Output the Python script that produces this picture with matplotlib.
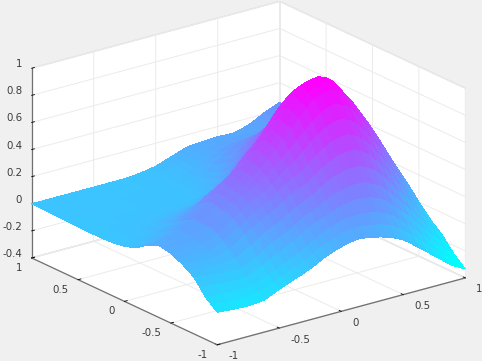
import matplotlib
matplotlib.use('Agg')
import matplotlib.pyplot as plt
import numpy as np
from mpl_toolkits.mplot3d import proj3d

# grid is tighter where the surface is steep
x_vals = [-1, -.875, -.75, -.625, -.5, -.4375, -.375, -.3125, -.25, -.1875, -.125, -.0625, 0, .0625, .125,
          .1875, .25, .3125, .375, .4375, .5, .5625, .625, .6875, .75, .8125, .875, .9375, 1]
y_vals = [-1, -.9375, -.875, -.8125, -.75, -.6875, -.625, -.5625, -.5, -.4375, -.375, -.3125, -.25, -.1875, -.125,
          -.0625, 0, .0625, .125, .1875, .25, .3125, .375, .4375, .5, .625, .75, .875, 1]

# heights, one row per y value
z_rows = [
    [-.16, -.17, -.175, -.165, -.115, -.092, -.07, -.048, -.025, .005, .035, .057, .075, .09, .10, .095, .085, .072, .055, .032, .005, -.038, -.085, -.13, -.175, -.222, -.27, -.303, -.334],
    [-.125, -.135, -.14, -.131, -.085, -.06, -.035, -.012, .012, .044, .076, .101, .122, .141, .155, .155, .15, .14, .126, .102, .075, .028, -.022, -.071, -.12, -.172, -.224, -.262, -.297],
    [-.09, -.10, -.106, -.098, -.054, -.028, -.001, .024, .049, .083, .117, .145, .169, .192, .21, .215, .215, .208, .197, .173, .144, .095, .042, -.012, -.065, -.122, -.178, -.22, -.26],
    [-.037, -.049, -.058, -.054, -.005, .025, .055, .085, .11, .145, .18, .21, .229, .256, .279, .29, .297, .294, .287, .262, .232, .179, .122, .063, .005, -.058, -.12, -.167, -.211],
    [.016, .002, -.01, -.01, .04, .075, .11, .14, .165, .20, .235, .265, .288, .32, .348, .366, .379, .38, .376, .35, .32, .263, .202, .138, .075, .006, -.062, -.113, -.161],
    [.045, .031, .023, .04, .10, .14, .175, .205, .23, .265, .30, .33, .354, .391, .425, .45, .47, .476, .476, .45, .417, .357, .291, .222, .152, .077, .002, -.063, -.126],
    [.073, .06, .055, .09, .16, .20, .235, .265, .29, .33, .37, .40, .419, .462, .502, .535, .561, .572, .575, .55, .514, .45, .38, .305, .229, .148, .066, -.012, -.09],
    [.094, .085, .085, .125, .20, .24, .28, .305, .335, .38, .42, .455, .482, .53, .575, .615, .648, .664, .67, .645, .607, .54, .465, .385, .303, .216, .127, .042, -.044],
    [.114, .11, .115, .16, .24, .28, .32, .35, .38, .42, .465, .51, .544, .597, .648, .695, .734, .755, .764, .74, .699, .63, .549, .465, .376, .283, .188, .095, .002],
    [.122, .118, .128, .185, .27, .315, .355, .385, .415, .46, .505, .555, .604, .661, .717, .77, .816, .842, .854, .83, .787, .715, .629, .54, .446, .347, .246, .148, .051],
    [.13, .125, .14, .18, .266, .314, .362, .40, .44, .492, .547, .605, .663, .725, .786, .845, .898, .928, .943, .92, .875, .80, .709, .616, .516, .41, .303, .20, .10],
    [.113, .118, .14, .185, .278, .327, .376, .415, .455, .509, .564, .623, .682, .745, .808, .87, .924, .957, .972, .948, .903, .825, .735, .641, .538, .43, .322, .225, .13],
    [.095, .11, .14, .19, .29, .34, .39, .43, .47, .525, .58, .64, .70, .765, .83, .895, .95, .985, 1.0, .975, .93, .85, .76, .665, .56, .45, .34, .25, .16],
    [.065, .08, .115, .165, .26, .30, .35, .39, .43, .48, .54, .60, .66, .725, .79, .85, .91, .945, .96, .94, .90, .83, .745, .655, .555, .455, .355, .268, .18],
    [.035, .05, .09, .14, .23, .27, .31, .345, .38, .44, .50, .55, .60, .67, .74, .81, .87, .90, .92, .90, .87, .805, .73, .645, .55, .46, .37, .285, .2],
    [.02, .03, .065, .11, .185, .22, .255, .285, .315, .365, .42, .47, .53, .60, .67, .745, .80, .84, .865, .848, .82, .76, .69, .61, .525, .44, .355, .278, .2],
    [.005, .01, .04, .08, .14, .165, .19, .215, .24, .29, .34, .37, .40, .475, .55, .63, .70, .76, .80, .79, .77, .715, .65, .575, .50, .42, .34, .27, .2],
    [-.001, .005, .03, .06, .10, .12, .14, .16, .18, .215, .25, .30, .345, .415, .485, .56, .625, .675, .71, .71, .70, .655, .60, .533, .465, .393, .32, .258, .195],
    [-.007, 0, .02, .04, .07, .085, .10, .11, .12, .16, .20, .245, .29, .355, .42, .485, .55, .59, .62, .625, .63, .59, .55, .49, .43, .365, .30, .245, .19],
    [-.01, 0, .015, .028, .045, .055, .065, .075, .085, .11, .145, .185, .225, .285, .355, .415, .475, .515, .56, .57, .575, .54, .51, .455, .40, .343, .285, .235, .185],
    [-.012, 0, .01, .015, .025, .03, .04, .045, .05, .07, .09, .125, .16, .225, .29, .345, .40, .45, .50, .51, .52, .495, .47, .42, .37, .32, .27, .225, .18],
    [-.012, 0, .005, .01, .015, .02, .025, .028, .03, .04, .06, .085, .115, .17, .23, .285, .345, .395, .445, .46, .47, .45, .425, .383, .34, .298, .255, .215, .175],
    [-.013, 0, 0, .005, .01, .01, .01, .01, .01, .02, .03, .05, .07, .12, .17, .23, .29, .34, .39, .405, .42, .40, .38, .345, .31, .275, .24, .205, .17],
    [-.012, 0, 0, .003, .005, .005, .005, .005, .005, .01, .02, .03, .055, .095, .14, .19, .25, .295, .34, .355, .37, .36, .345, .315, .285, .258, .23, .20, .17],
    [-.011, 0, 0, 0, 0, .003, .005, .005, .005, .01, .015, .025, .04, .075, .11, .16, .21, .25, .29, .305, .32, .315, .31, .285, .26, .24, .22, .195, .17],
    [-.009, 0, 0, 0, 0, .003, .005, .005, .005, .01, .015, .02, .03, .055, .08, .12, .16, .19, .22, .235, .25, .245, .24, .225, .21, .20, .19, .185, .18],
    [-.005, 0, 0, 0, 0, 0, 0, 0, 0, .005, .01, .015, .02, .04, .06, .085, .11, .135, .16, .17, .18, .18, .18, .175, .17, .175, .18, .19, .20],
    [0, 0, 0, 0, 0, 0, 0, 0, 0, .005, .01, .02, .03, .05, .07, .085, .10, .115, .13, .14, .15, .15, .15, .155, .16, .18, .20, .215, .23],
    [0, 0, 0, 0, 0, 0, 0, 0, 0, .005, .01, .02, .03, .05, .07, .09, .11, .115, .12, .123, .125, .123, .12, .135, .15, .18, .21, .233, .255],
]
xy_ticks = [-1, -0.5, 0, 0.5, 1]
xy_labels = ['-1', '-0.5', '0', '0.5', '1']
z_ticks = [-0.4, -0.2, 0, 0.2, 0.4, 0.6, 0.8, 1]
z_labels = ['-0.4', '-0.2', '0', '0.2', '0.4', '0.6', '0.8', '1']

bg = '#f0f0f0'
fig = plt.figure(figsize=(4.82, 3.61), dpi=100, facecolor=bg)
ax = fig.add_axes([0.002, -0.165, 1, 1.335], projection='3d', proj_type='ortho', facecolor='none')
ax.view_init(elev=20.8, azim=-127.2)
ax.set_box_aspect((311.5, 307, 203), zoom=0.971)

X, Y = np.meshgrid(x_vals, y_vals)
Z = np.array(z_rows)
ax.plot_surface(X, Y, Z, cmap='cool', rstride=1, cstride=1, linewidth=0, antialiased=False, shade=False)

ax.set_xlim(-1, 1)
ax.set_ylim(-1, 1)
ax.set_zlim(-0.4, 1)
ax.set_xticks(xy_ticks, [''] * 5)
ax.set_yticks(xy_ticks, [''] * 5)
ax.set_zticks(z_ticks, [''] * 8)

for axis in (ax.xaxis, ax.yaxis, ax.zaxis):
    axis.set_pane_color('white')
    axis.pane.set_edgecolor('#dedede')
    axis.line.set_color('#707070')
    axis.line.set_linewidth(0.9)
    axis._axinfo['grid'].update(color='#ebebeb', linewidth=0.7)
    axis._axinfo['tick'].update(color='#808080', inward_factor=0, outward_factor=0.14, linewidth={True: 0.6, False: 0.5})

# tick labels put by hand, the default padding lands them too far off
proj = ax.get_proj()
def tick_label(text, x, y, z, dx, dy, ha):
    px, py, _ = proj3d.proj_transform(x, y, z, proj)
    ax.annotate(text, (px, py), xytext=(dx * 0.72, dy * 0.72), textcoords='offset points', ha=ha, va='center',
                fontsize=7.4, color='#3c3c3c', annotation_clip=False)

for t, s in zip(xy_ticks, xy_labels):
    tick_label(s, t, -1, -0.4, 11, -11.5, 'left')
    tick_label(s, -1, t, -0.4, -9.5, -10, 'right')
for t, s in zip(z_ticks, z_labels):
    tick_label(s, -1, 1, t, -9.5, 4, 'right')

fig.savefig('out.png', dpi=100, facecolor=bg)
